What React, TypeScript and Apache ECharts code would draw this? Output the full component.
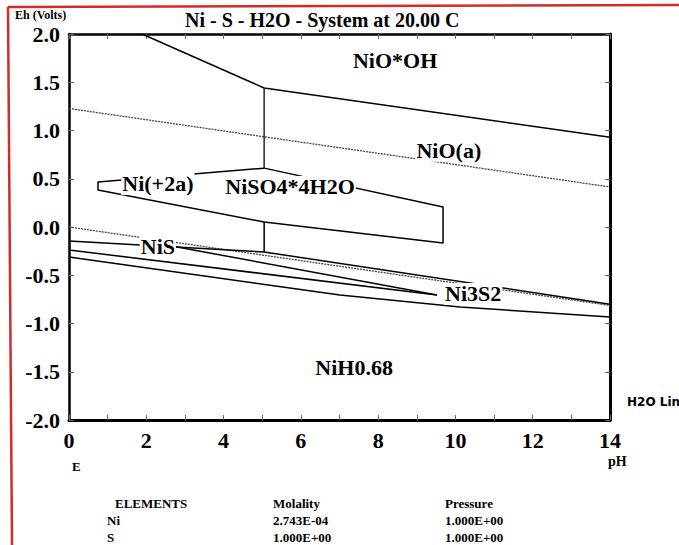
import React, { useEffect, useRef } from 'react';
import * as echarts from 'echarts';

// Axis ranges
const phRange = [0, 14];
const ehRange = [-2, 2];

// Boundary lines, [pH, Eh]
const nioohBoundary = [[1.89, 2.0], [5.05, 1.44], [14, 0.93]];
const upperVertical = [[5.05, 1.44], [5.05, 0.61]];
const ni2aBoundary = [[5.05, 0.61], [0.75, 0.466], [0.75, 0.383], [5.05, 0.052]];
const lowerVertical = [[5.05, 0.052], [5.05, -0.259]];
const niso4Box = [[5.05, 0.61], [9.68, 0.207], [9.68, -0.166], [5.05, 0.052]];
const nisUpper = [[0, -0.145], [5.05, -0.259], [14, -0.8]];
const nisLower = [[2.7, -0.2], [9.52, -0.705]];
const ni3s2Upper = [[0, -0.238], [9.52, -0.705]];
const nih068Boundary = [[0, -0.311], [7.01, -0.705], [10.12, -0.829], [14, -0.933]];
const waterUpper = [[0, 1.228], [14, 0.415]];
const waterLower = [[0, 0], [14, -0.813]];

// Region labels
const regionNames = ['NiO*OH', 'NiO(a)', 'Ni(+2a)', 'NiSO4*4H2O', 'NiS', 'Ni3S2', 'NiH0.68'];
const regionPH = [8.44, 9.83, 2.3, 5.72, 2.3, 10.46, 7.38];
const regionEh = [1.73, 0.79, 0.446, 0.415, -0.197, -0.694, -1.46];

// Footer table
const tableElements = ['Ni', 'S'];
const tableMolality = ['2.743E-04', '1.000E+00'];
const tablePressure = ['1.000E+00', '1.000E+00'];

const SERIF = "'Liberation Serif', 'Times New Roman', serif";

export default function App() {
  const ref = useRef<HTMLDivElement>(null);
  useEffect(() => {
    if (!ref.current) return;
    const chart = echarts.init(ref.current, null, { renderer: 'svg' });
    const solid = (data: number[][], extra: any = {}) => ({
      type: 'line',
      data,
      showSymbol: false,
      silent: true,
      z: 2,
      lineStyle: { color: '#000', width: 1.5, ...extra },
    });
    const water = (data: number[][]) => ({
      type: 'line',
      data,
      showSymbol: false,
      silent: true,
      z: 1,
      lineStyle: { color: '#444', width: 1.3, type: [2, 1] },
    });
    const gText = (text: string, x: number, y: number, fontSize: number, extra: any = {}) => ({
      type: 'text',
      x,
      y,
      style: {
        text,
        fill: '#000',
        font: `bold ${fontSize}px ${SERIF}`,
        textVerticalAlign: 'middle',
        ...extra,
      },
    });
    const tableTexts: any[] = [];
    tableTexts.push(gText('ELEMENTS', 115, 503, 13));
    tableTexts.push(gText('Molality', 273, 503, 13));
    tableTexts.push(gText('Pressure', 445, 503, 13));
    tableElements.forEach((t, i) => {
      tableTexts.push(gText(t, 107, 520 + i * 17, 13));
      tableTexts.push(gText(tableMolality[i], 273, 520 + i * 17, 13));
      tableTexts.push(gText(tablePressure[i], 445, 520 + i * 17, 13));
    });

    const axisFont = { color: '#000', fontSize: 22, fontWeight: 'bold', fontFamily: SERIF };
    const tick = { inside: true, length: 5, lineStyle: { color: '#666' } };
    chart.setOption({
      animation: false,
      backgroundColor: '#fff',
      title: {
        text: 'Ni - S - H2O - System at 20.00 C',
        left: 180,
        top: 5,
        textStyle: { color: '#000', fontSize: 20, fontWeight: 'bold', fontFamily: SERIF },
      },
      grid: { left: 69, right: 69, top: 34, bottom: 125 },
      xAxis: [
        {
          type: 'value',
          min: phRange[0],
          max: phRange[1],
          interval: 1,
          axisLine: { onZero: false, lineStyle: { color: '#000', width: 3 } },
          axisTick: tick,
          axisLabel: {
            ...axisFont,
            margin: 9,
            formatter: (v: number) => (v % 2 === 0 ? String(v) : ''),
          },
          splitLine: { show: false },
        },
        {
          type: 'value',
          position: 'top',
          min: phRange[0],
          max: phRange[1],
          interval: 1,
          axisLine: { onZero: false, lineStyle: { color: '#000', width: 2.5 } },
          axisTick: tick,
          axisLabel: { show: false },
          splitLine: { show: false },
        },
      ],
      yAxis: [
        {
          type: 'value',
          min: ehRange[0],
          max: ehRange[1],
          interval: 0.5,
          axisLine: { onZero: false, lineStyle: { color: '#000', width: 2.5 } },
          axisTick: tick,
          axisLabel: {
            ...axisFont,
            margin: 9,
            lineHeight: 14,
            padding: [6, 0, 0, 0],
            formatter: (v: number) => v.toFixed(1),
          },
          splitLine: { show: false },
        },
        {
          type: 'value',
          position: 'right',
          min: ehRange[0],
          max: ehRange[1],
          interval: 0.5,
          axisLine: { onZero: false, lineStyle: { color: '#000', width: 3 } },
          axisTick: tick,
          axisLabel: { show: false },
          splitLine: { show: false },
        },
      ],
      series: [
        water(waterUpper),
        water(waterLower),
        solid(nioohBoundary),
        solid(upperVertical, { color: '#223' }),
        solid(ni2aBoundary),
        solid(lowerVertical),
        solid(niso4Box),
        solid(nisUpper),
        solid(nisLower),
        solid(ni3s2Upper),
        solid(nih068Boundary),
        {
          type: 'scatter',
          symbolSize: 0,
          silent: true,
          z: 10,
          itemStyle: { opacity: 1 },
          data: regionNames.map((n, i) => ({ name: n, value: [regionPH[i], regionEh[i]] })),
          label: {
            show: true,
            position: 'inside',
            formatter: '{b}',
            color: '#000',
            opacity: 1,
            textBorderWidth: 0,
            fontSize: 22,
            fontWeight: 'bold',
            fontFamily: SERIF,
            backgroundColor: '#fff',
            padding: [0, 1],
          },
        },
      ],
      graphic: [
        {
          type: 'line',
          shape: { x1: 8, y1: 7, x2: 12, y2: 545 },
          style: { stroke: '#d42a2a', lineWidth: 2.5 },
        },
        {
          type: 'line',
          shape: { x1: 8, y1: 7, x2: 679, y2: 5 },
          style: { stroke: '#d42a2a', lineWidth: 2.5 },
        },
        gText('Eh (Volts)', 15, 15, 12),
        gText('E', 72, 466, 13),
        gText('pH', 608, 461, 14),
        {
          type: 'text',
          x: 627,
          y: 402,
          style: {
            text: 'H2O Lines',
            fill: '#000',
            font: "bold 12px 'DejaVu Sans', sans-serif",
            textVerticalAlign: 'middle',
          },
        },
        ...tableTexts,
      ],
    });
    return () => chart.dispose();
  }, []);
  return (
    <div
      ref={ref}
      style={{ position: 'fixed', left: 0, top: 0, width: 679, height: 545, background: '#fff' }}
    />
  );
}
